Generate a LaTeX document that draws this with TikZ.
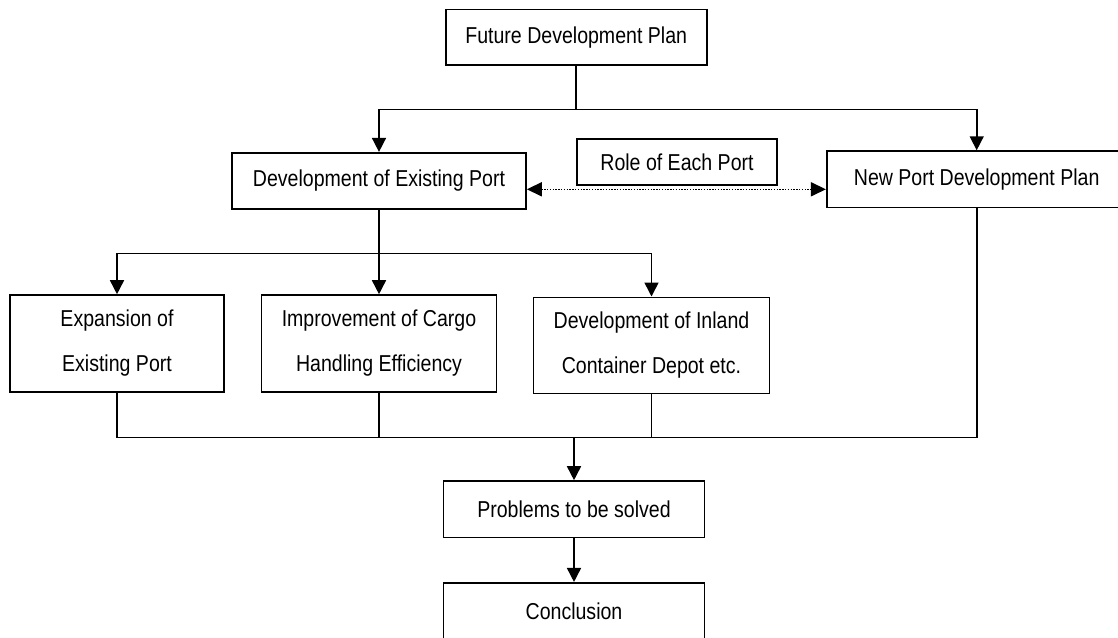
\documentclass[tikz,border=0pt]{standalone}
\usepackage{fontspec}
\setmainfont{Liberation Sans}[FakeStretch=0.85]
\usetikzlibrary{arrows.meta}
\begin{document}
\begin{tikzpicture}[x=1pt,y=-1pt,
  box/.style={draw, line width=1.6pt, inner sep=0pt, align=center,
    font=\fontsize{23}{45}\selectfont},
  conn/.style={line width=1.6pt},
  arr/.style={line width=1.6pt, -{Triangle[length=14pt,width=14pt]}},
  dotarr/.style={line width=1.6pt, dash pattern=on 1.4pt off 1.4pt,
    {Triangle[length=15pt,width=14pt]}-{Triangle[length=15pt,width=14pt]}}]
\fill[white] (0,0) rectangle (1118,637);
\useasboundingbox (0,0) rectangle (1118,637);
% boxes
\node[box, minimum width=261pt, minimum height=55.7pt] (fdp) at (576.2,37.15) {Future Development Plan};
\node[box, minimum width=294pt, minimum height=56.3pt] (dep) at (379,180.85) {Development of Existing Port};
\node[box, minimum width=200pt, minimum height=46pt] (role) at (677,162) {Role of Each Port};
\node[box, minimum width=300pt, minimum height=56.3pt] (npd) at (976.7,179.2) {New Port Development Plan};
\node[box, minimum width=214pt, minimum height=96.7pt] (exp) at (117,343.35) {Expansion of\\Existing Port};
\node[box, minimum width=235pt, minimum height=96.7pt] (imp) at (379,343.35) {Improvement of Cargo\\Handling Efficiency};
\node[box, minimum width=236pt, minimum height=96pt] (icd) at (651.5,345.3) {Development of Inland\\Container Depot etc.};
\node[box, minimum width=261pt, minimum height=56.3pt] (prob) at (574,509.15) {Problems to be solved};
\node[box, minimum width=261pt, minimum height=56.3pt] (conc) at (574,610.9) {Conclusion};
% junctions
\coordinate (j1) at (576.2,109.3);
\coordinate (j2) at (379,253.3);
\coordinate (j3) at (574,437.3);
\coordinate (dl) at (0,189.3);
% connectors
\draw[conn] (fdp.south) -- (j1);
\draw[arr] (j1) -| (dep.north);
\draw[arr] (j1) -| (npd.north);
\draw[dotarr] (dep.east |- dl) -- (npd.west |- dl);
\draw[conn] (dep.south) -- (j2);
\draw[arr] (j2) -- (imp.north);
\draw[arr] (j2) -| (exp.north);
\draw[arr] (j2) -| (icd.north);
\draw[conn] (exp.south) |- (j3 -| npd.south) -- (npd.south);
\draw[conn] (imp.south) -- (imp.south |- j3);
\draw[conn] (icd.south) -- (icd.south |- j3);
\draw[arr] (j3) -- (prob.north);
\draw[arr] (prob.south) -- (conc.north);
\end{tikzpicture}
\end{document}
